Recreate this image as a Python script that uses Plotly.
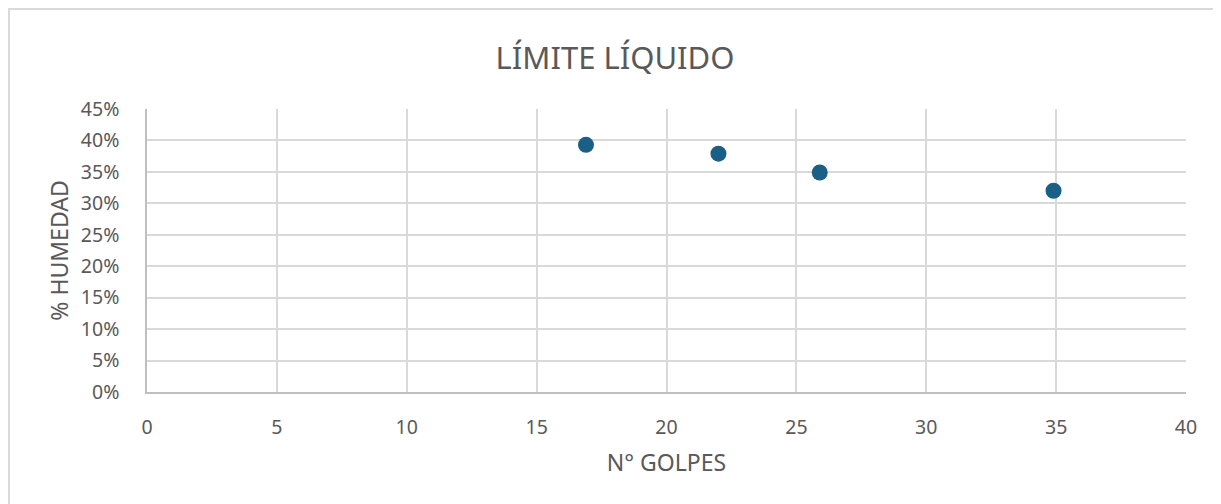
import plotly.graph_objects as go

# Liquid limit test: number of blows vs moisture content
golpes = [16.9, 22.0, 25.9, 34.9]
humedad = [0.393, 0.379, 0.349, 0.320]

x_ticks = [0, 5, 10, 15, 20, 25, 30, 35, 40]
y_ticks = [0, 0.05, 0.10, 0.15, 0.20, 0.25, 0.30, 0.35, 0.40, 0.45]

FONT = "Noto Sans"
TEXT = "#595959"
GRID = "#d9d9d9"

fig = go.Figure()

fig.add_trace(
    go.Scatter(
        x=golpes,
        y=humedad,
        mode="markers",
        marker=dict(size=16, color="#1a5f85"),
        showlegend=False,
    )
)

# page body has an 8px margin, so the figure is sized/offset to compensate
fig.update_layout(
    width=1213,
    height=496,
    margin=dict(l=139, r=35, t=101, b=112),
    paper_bgcolor="white",
    plot_bgcolor="white",
    font=dict(family=FONT, color=TEXT, size=19),
    title=dict(
        text="LÍMITE LÍQUIDO",
        x=0.5004,
        xanchor="center",
        y=0.899,
        yanchor="middle",
        font=dict(size=31, color=TEXT, family=FONT),
    ),
    xaxis=dict(
        range=[0, 40],
        tickvals=x_ticks,
        showgrid=True,
        gridcolor=GRID,
        gridwidth=1.5,
        zeroline=False,
        showline=True,
        linecolor="#bfbfbf",
        linewidth=1.5,
        ticks="outside",
        ticklen=0,
        ticklabelstandoff=17,
        tickfont=dict(size=19.5, color=TEXT),
        title=dict(text="N° GOLPES", font=dict(size=23, color=TEXT), standoff=16),
    ),
    yaxis=dict(
        range=[0, 0.45],
        tickvals=y_ticks,
        tickformat=".0%",
        showgrid=True,
        gridcolor=GRID,
        gridwidth=1.5,
        zeroline=False,
        showline=True,
        linecolor="#bfbfbf",
        linewidth=1.5,
        ticks="outside",
        ticklen=0,
        ticklabelstandoff=22,
        tickfont=dict(size=19.5, color=TEXT),
        title=dict(text="% HUMEDAD", font=dict(size=23, color=TEXT), standoff=6),
    ),
)

# outer chart border
fig.add_shape(
    type="rect",
    xref="paper", yref="paper",
    xsizemode="pixel", ysizemode="pixel",
    xanchor=0, yanchor=1,
    x0=-138, x1=1100, y0=100, y1=-420,
    line=dict(color="#d9d9d9", width=2),
    fillcolor="rgba(0,0,0,0)",
    layer="below",
)

fig.write_html("out.html")
